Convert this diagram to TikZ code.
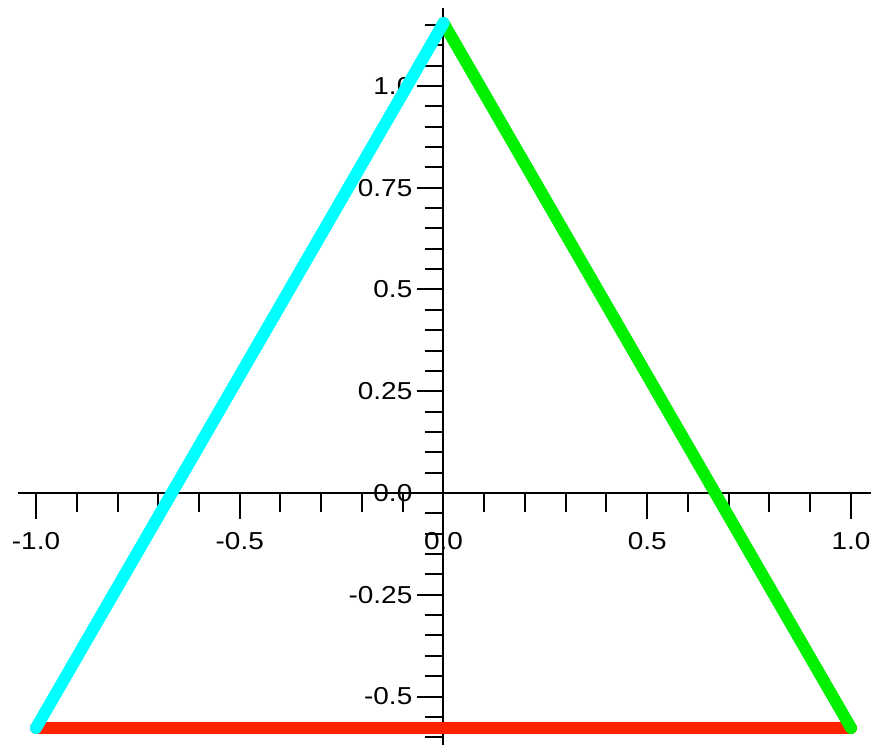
\documentclass[tikz,border=0pt]{standalone}
\usepackage{fontspec}
\setmainfont{Liberation Sans}
\newfontfamily\lblfont[FakeStretch=1.14]{Liberation Sans}
\definecolor{cyanline}{RGB}{0,255,255}
\definecolor{greenline}{RGB}{0,240,0}
\definecolor{redline}{RGB}{255,34,0}
\tikzset{
  axisline/.style={line width=2pt,black},
  tickline/.style={line width=2pt,black},
  edge/.style={line width=12pt,line cap=round},
  lbl/.style={font=\lblfont\fontsize{24.5}{27}\selectfont,inner sep=0pt}
}
\begin{document}
\begin{tikzpicture}[x=407.5pt,y=407pt]
\useasboundingbox (-443.5pt,-252pt) rectangle (427.5pt,493pt);
% axes
\coordinate (xl) at (-425.5pt,0);
\coordinate (xr) at (427.5pt,0);
\coordinate (yb) at (0,-252pt);
\coordinate (yt) at (0,485pt);
\draw[axisline] (xl) -- (xr);
\draw[axisline] (yb) -- (yt);
% x ticks
\foreach \i in {-10,...,10}{
  \pgfmathsetmacro{\xx}{\i/10}
  \pgfmathtruncatemacro{\ismaj}{mod(abs(\i),5)==0 ? 1 : 0}
  \ifnum\ismaj=1
    \draw[tickline] (\xx,0) -- ++(0,-26pt);
  \else
    \draw[tickline] (\xx,0) -- ++(0,-19pt);
  \fi
}
% y ticks
\foreach \j in {-12,...,23}{
  \pgfmathsetmacro{\yy}{\j/20}
  \pgfmathtruncatemacro{\ismaj}{mod(abs(\j),5)==0 ? 1 : 0}
  \ifnum\ismaj=1
    \draw[tickline] (0,\yy) -- ++(-26pt,0);
  \else
    \draw[tickline] (0,\yy) -- ++(-18pt,0);
  \fi
}
% x labels
\node[lbl,anchor=base] (xm10) at (-1,-56pt) {-1.0};
\node[lbl,anchor=base] (xm05) at (-0.5,-56pt) {-0.5};
\node[lbl,anchor=base] (x00) at (0,-56pt) {0.0};
\node[lbl,anchor=base] (x05) at (0.5,-56pt) {0.5};
\node[lbl,anchor=base] (x10) at (1,-56pt) {1.0};
% y labels
\node[lbl,anchor=east] (y10) at ([xshift=-31pt]0,1) {1.0};
\node[lbl,anchor=east] (y075) at ([xshift=-31pt]0,0.75) {0.75};
\node[lbl,anchor=east] (y05) at ([xshift=-31pt]0,0.5) {0.5};
\node[lbl,anchor=east] (y025) at ([xshift=-31pt]0,0.25) {0.25};
\node[lbl,anchor=east] (y00) at ([xshift=-31pt]0,0) {0.0};
\node[lbl,anchor=east] (ym025) at ([xshift=-31pt]0,-0.25) {-0.25};
\node[lbl,anchor=east] (ym05) at ([xshift=-31pt]0,-0.5) {-0.5};
% triangle
\coordinate (A) at (-1,-0.57735);
\coordinate (B) at (1,-0.57735);
\coordinate (C) at (0,1.1547);
\draw[edge,redline] (A) -- (B);
\draw[edge,greenline] (B) -- (C);
\draw[edge,cyanline] (A) -- (C);
\end{tikzpicture}
\end{document}
